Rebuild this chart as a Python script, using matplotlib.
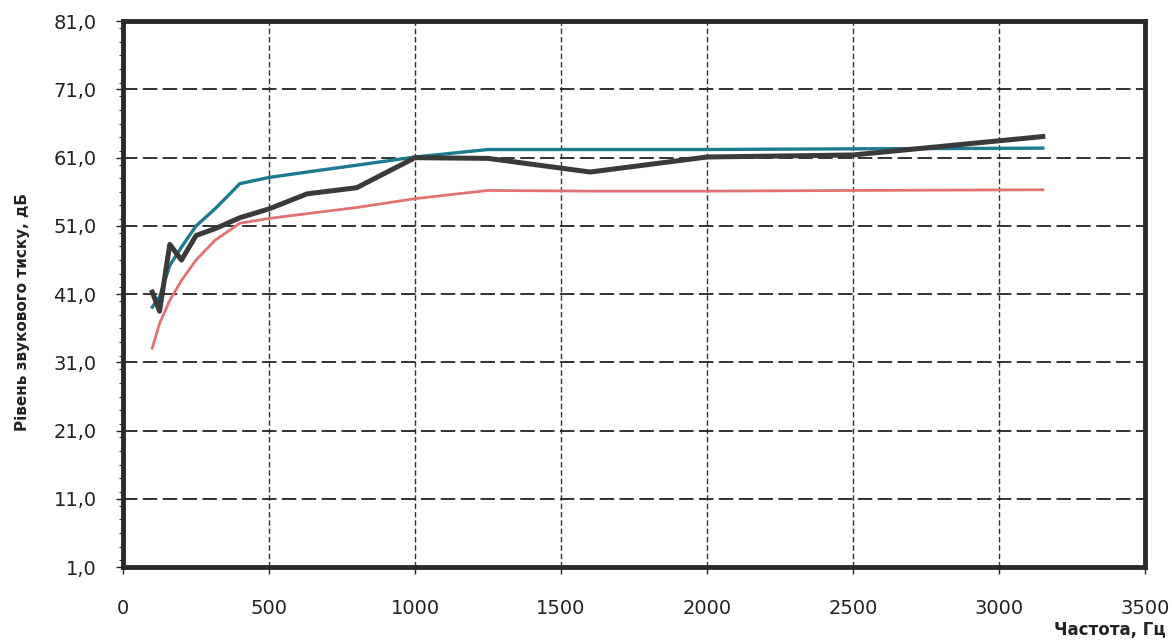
import matplotlib.pyplot as plt
from matplotlib.ticker import MultipleLocator, FuncFormatter

# Third-octave frequencies, Hz
freq = [100, 125, 160, 200, 250, 315, 400, 500, 630, 800, 1000, 1250, 1600, 2000, 2500, 3150]

# Sound pressure levels, dB
level_black = [41.3, 38.5, 48.3, 46.0, 49.6, 50.6, 52.2, 53.5, 55.7, 56.6, 61.0, 60.9, 58.9, 61.1, 61.4, 64.1]
level_teal = [39.1, 40.6, 45.2, 47.9, 51.0, 53.5, 57.2, 58.1, 58.9, 59.9, 61.1, 62.2, 62.2, 62.2, 62.3, 62.4]
level_red = [33.1, 36.7, 40.1, 43.0, 46.0, 48.9, 51.4, 52.1, 52.8, 53.7, 55.0, 56.2, 56.1, 56.1, 56.2, 56.3]

y_ticks = [1, 11, 21, 31, 41, 51, 61, 71, 81]
x_ticks = [0, 500, 1000, 1500, 2000, 2500, 3000, 3500]

fig = plt.figure(figsize=(11.72, 6.43), dpi=100)
ax = fig.add_axes([0.105, 0.118, 0.872, 0.849])

ax.plot(freq, level_teal, color='#1d7a90', lw=2.4, zorder=3)
ax.plot(freq, level_red, color='#e27272', lw=2.0, zorder=3)
ax.plot(freq, level_black, color='#3a3a3a', lw=3.6, zorder=4)

ax.set_xlim(0, 3500)
ax.set_ylim(1, 81)
ax.set_xticks(x_ticks)
ax.set_yticks(y_ticks)
ax.yaxis.set_major_formatter(FuncFormatter(lambda v, p: ('%.1f' % v).replace('.', ',')))
ax.yaxis.set_minor_locator(MultipleLocator(2))

ax.tick_params(axis='both', which='major', labelsize=14, length=5, width=1, colors='#222222')
ax.tick_params(axis='y', which='major', pad=14)
ax.tick_params(axis='x', which='major', pad=18)
ax.tick_params(axis='y', which='minor', length=3, width=0.8, colors='#333333')

# dashed grid like the scanned Excel chart
ax.grid(True, axis='y', which='major', color='#222222', ls=(0, (8, 3)), lw=1.3)
ax.grid(True, axis='x', which='major', color='#333333', ls=(0, (4, 2)), lw=1.0)

for side in ax.spines.values():
    side.set_linewidth(3.5)
    side.set_color('#2a2a2a')

fig.text(0.019, 0.515, 'Рівень звукового тиску, дБ', rotation=90, ha='center', va='center',
         fontsize=11, fontweight='bold', color='#222222')
fig.text(0.995, 0.02, 'Частота, Гц', ha='right', va='center',
         fontsize=12, fontweight='bold', color='#222222')

fig.savefig('out.png', dpi=100)
